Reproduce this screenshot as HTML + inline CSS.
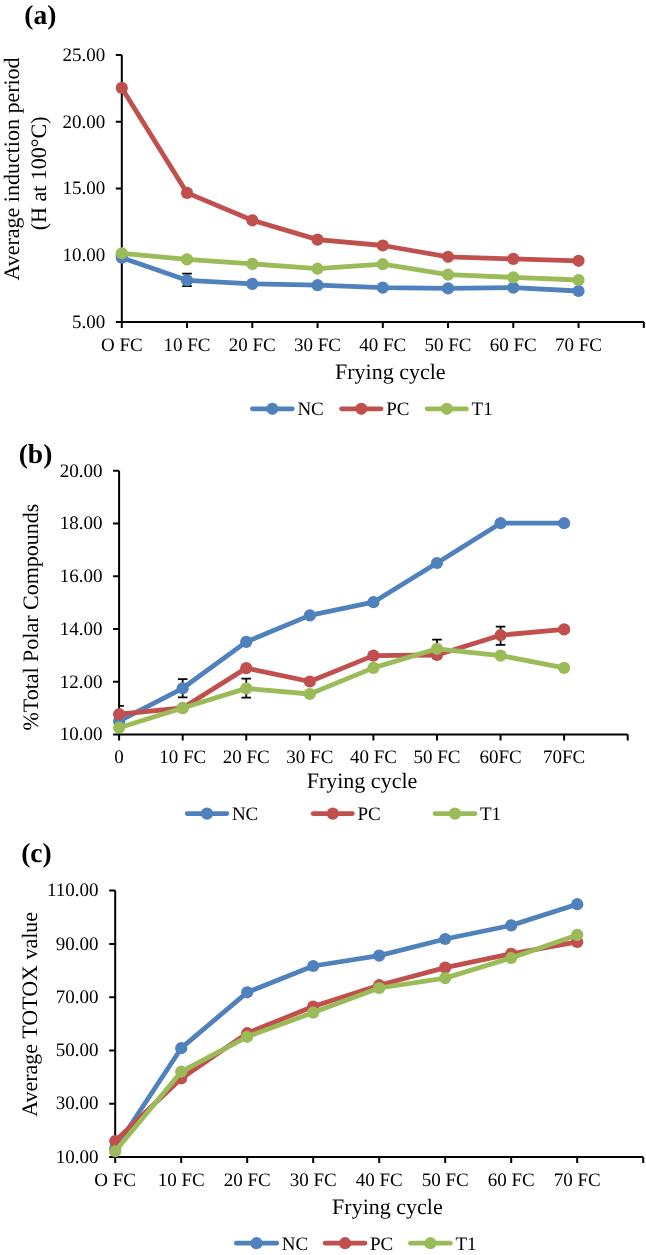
<!DOCTYPE html>
<html><head><meta charset="utf-8"><style>
html,body{margin:0;padding:0;background:#fff;width:646px;height:1255px;overflow:hidden}
svg{display:block;will-change:transform}
text{font-family:"Liberation Serif",serif;fill:#000;text-rendering:geometricPrecision}
</style></head><body>
<svg width="646" height="1255" viewBox="0 0 646 1255">
<rect width="646" height="1255" fill="#fff"/>
<path d="M121.80,55.10 V322.00 H643.80" fill="none" stroke="#000" stroke-width="2"/>
<path d="M115.80,55.10 H121.80 M115.80,121.80 H121.80 M115.80,188.50 H121.80 M115.80,255.20 H121.80 M115.80,322.00 H121.80 M121.80,322.00 V328.00 M187.05,322.00 V328.00 M252.30,322.00 V328.00 M317.55,322.00 V328.00 M382.80,322.00 V328.00 M448.05,322.00 V328.00 M513.30,322.00 V328.00 M578.55,322.00 V328.00 M643.80,322.00 V328.00" fill="none" stroke="#000" stroke-width="2"/>
<text x="105.30" y="60.80" font-size="19" font-weight="normal" text-anchor="end" >25.00</text>
<text x="105.30" y="127.50" font-size="19" font-weight="normal" text-anchor="end" >20.00</text>
<text x="105.30" y="194.20" font-size="19" font-weight="normal" text-anchor="end" >15.00</text>
<text x="105.30" y="260.90" font-size="19" font-weight="normal" text-anchor="end" >10.00</text>
<text x="105.30" y="327.70" font-size="19" font-weight="normal" text-anchor="end" >5.00</text>
<text x="121.80" y="350.50" font-size="19" font-weight="normal" text-anchor="middle" >O FC</text>
<text x="187.05" y="350.50" font-size="19" font-weight="normal" text-anchor="middle" >10 FC</text>
<text x="252.30" y="350.50" font-size="19" font-weight="normal" text-anchor="middle" >20 FC</text>
<text x="317.55" y="350.50" font-size="19" font-weight="normal" text-anchor="middle" >30 FC</text>
<text x="382.80" y="350.50" font-size="19" font-weight="normal" text-anchor="middle" >40 FC</text>
<text x="448.05" y="350.50" font-size="19" font-weight="normal" text-anchor="middle" >50 FC</text>
<text x="513.30" y="350.50" font-size="19" font-weight="normal" text-anchor="middle" >60 FC</text>
<text x="578.55" y="350.50" font-size="19" font-weight="normal" text-anchor="middle" >70 FC</text>
<text x="643.80" y="350.50" font-size="19" font-weight="normal" text-anchor="middle" ></text>
<text x="335.00" y="378.80" font-size="22" font-weight="normal" text-anchor="start" >Frying cycle</text>
<text transform="translate(18.70,169.00) rotate(-90)" x="0" y="0" font-size="22" text-anchor="middle">Average induction period</text>
<text transform="translate(45.60,173.40) rotate(-90)" x="0" y="0" font-size="22" text-anchor="middle">(H at 100°C)</text>
<text x="24.30" y="24.10" font-size="27.5" font-weight="bold" text-anchor="start" >(a)</text>
<clipPath id="ca"><rect x="121.80" y="35.10" width="522.00" height="286.90"/></clipPath>
<path clip-path="url(#ca)" d="M187.05,273.70 V286.10 M182.25,273.70 H191.85 M182.25,286.10 H191.85" fill="none" stroke="#000" stroke-width="1.8"/>
<polyline points="121.80,257.70 187.05,280.30 252.30,283.90 317.55,285.20 382.80,287.60 448.05,288.40 513.30,287.60 578.55,291.00" fill="none" stroke="#4F81BD" stroke-width="4.8" stroke-linejoin="round" stroke-linecap="round"/>
<circle cx="121.80" cy="257.70" r="6.1" fill="#4F81BD"/>
<circle cx="187.05" cy="280.30" r="6.1" fill="#4F81BD"/>
<circle cx="252.30" cy="283.90" r="6.1" fill="#4F81BD"/>
<circle cx="317.55" cy="285.20" r="6.1" fill="#4F81BD"/>
<circle cx="382.80" cy="287.60" r="6.1" fill="#4F81BD"/>
<circle cx="448.05" cy="288.40" r="6.1" fill="#4F81BD"/>
<circle cx="513.30" cy="287.60" r="6.1" fill="#4F81BD"/>
<circle cx="578.55" cy="291.00" r="6.1" fill="#4F81BD"/>
<polyline points="121.80,87.90 187.05,192.90 252.30,220.30 317.55,239.60 382.80,245.50 448.05,256.80 513.30,258.90 578.55,260.80" fill="none" stroke="#C0504D" stroke-width="4.8" stroke-linejoin="round" stroke-linecap="round"/>
<circle cx="121.80" cy="87.90" r="6.1" fill="#C0504D"/>
<circle cx="187.05" cy="192.90" r="6.1" fill="#C0504D"/>
<circle cx="252.30" cy="220.30" r="6.1" fill="#C0504D"/>
<circle cx="317.55" cy="239.60" r="6.1" fill="#C0504D"/>
<circle cx="382.80" cy="245.50" r="6.1" fill="#C0504D"/>
<circle cx="448.05" cy="256.80" r="6.1" fill="#C0504D"/>
<circle cx="513.30" cy="258.90" r="6.1" fill="#C0504D"/>
<circle cx="578.55" cy="260.80" r="6.1" fill="#C0504D"/>
<polyline points="121.80,253.30 187.05,259.40 252.30,263.90 317.55,268.70 382.80,264.20 448.05,274.70 513.30,277.40 578.55,280.00" fill="none" stroke="#9BBB59" stroke-width="4.8" stroke-linejoin="round" stroke-linecap="round"/>
<circle cx="121.80" cy="253.30" r="6.1" fill="#9BBB59"/>
<circle cx="187.05" cy="259.40" r="6.1" fill="#9BBB59"/>
<circle cx="252.30" cy="263.90" r="6.1" fill="#9BBB59"/>
<circle cx="317.55" cy="268.70" r="6.1" fill="#9BBB59"/>
<circle cx="382.80" cy="264.20" r="6.1" fill="#9BBB59"/>
<circle cx="448.05" cy="274.70" r="6.1" fill="#9BBB59"/>
<circle cx="513.30" cy="277.40" r="6.1" fill="#9BBB59"/>
<circle cx="578.55" cy="280.00" r="6.1" fill="#9BBB59"/>
<path d="M252.40,408.80 H292.30" stroke="#4F81BD" stroke-width="4.8" stroke-linecap="round"/>
<circle cx="272.35" cy="408.80" r="6.1" fill="#4F81BD"/>
<text x="297.40" y="415.20" font-size="19" font-weight="normal" text-anchor="start" >NC</text>
<path d="M341.60,408.80 H381.10" stroke="#C0504D" stroke-width="4.8" stroke-linecap="round"/>
<circle cx="361.35" cy="408.80" r="6.1" fill="#C0504D"/>
<text x="386.20" y="415.20" font-size="19" font-weight="normal" text-anchor="start" >PC</text>
<path d="M427.10,408.80 H466.50" stroke="#9BBB59" stroke-width="4.8" stroke-linecap="round"/>
<circle cx="446.80" cy="408.80" r="6.1" fill="#9BBB59"/>
<text x="471.60" y="415.20" font-size="19" font-weight="normal" text-anchor="start" >T1</text>
<path d="M119.10,470.80 V734.50 H627.70" fill="none" stroke="#000" stroke-width="2"/>
<path d="M113.10,470.80 H119.10 M113.10,523.50 H119.10 M113.10,576.30 H119.10 M113.10,629.00 H119.10 M113.10,681.80 H119.10 M113.10,734.50 H119.10 M119.10,734.50 V740.50 M182.68,734.50 V740.50 M246.25,734.50 V740.50 M309.83,734.50 V740.50 M373.40,734.50 V740.50 M436.98,734.50 V740.50 M500.55,734.50 V740.50 M564.12,734.50 V740.50 M627.70,734.50 V740.50" fill="none" stroke="#000" stroke-width="2"/>
<text x="102.60" y="476.50" font-size="19" font-weight="normal" text-anchor="end" >20.00</text>
<text x="102.60" y="529.20" font-size="19" font-weight="normal" text-anchor="end" >18.00</text>
<text x="102.60" y="582.00" font-size="19" font-weight="normal" text-anchor="end" >16.00</text>
<text x="102.60" y="634.70" font-size="19" font-weight="normal" text-anchor="end" >14.00</text>
<text x="102.60" y="687.50" font-size="19" font-weight="normal" text-anchor="end" >12.00</text>
<text x="102.60" y="740.20" font-size="19" font-weight="normal" text-anchor="end" >10.00</text>
<text x="119.10" y="763.00" font-size="19" font-weight="normal" text-anchor="middle" >0</text>
<text x="182.68" y="763.00" font-size="19" font-weight="normal" text-anchor="middle" >10 FC</text>
<text x="246.25" y="763.00" font-size="19" font-weight="normal" text-anchor="middle" >20 FC</text>
<text x="309.83" y="763.00" font-size="19" font-weight="normal" text-anchor="middle" >30 FC</text>
<text x="373.40" y="763.00" font-size="19" font-weight="normal" text-anchor="middle" >40 FC</text>
<text x="436.98" y="763.00" font-size="19" font-weight="normal" text-anchor="middle" >50 FC</text>
<text x="500.55" y="763.00" font-size="19" font-weight="normal" text-anchor="middle" >60FC</text>
<text x="564.12" y="763.00" font-size="19" font-weight="normal" text-anchor="middle" >70FC</text>
<text x="627.70" y="763.00" font-size="19" font-weight="normal" text-anchor="middle" ></text>
<text x="306.70" y="787.50" font-size="22" font-weight="normal" text-anchor="start" >Frying cycle</text>
<text transform="translate(37.90,617.10) rotate(-90)" x="0" y="0" font-size="22" text-anchor="middle">%Total Polar Compounds</text>
<text x="18.70" y="463.30" font-size="27.5" font-weight="bold" text-anchor="start" >(b)</text>
<clipPath id="cb"><rect x="119.10" y="450.80" width="508.60" height="283.70"/></clipPath>
<path clip-path="url(#cb)" d="M119.10,705.80 V736.60 M114.30,705.80 H123.90 M114.30,736.60 H123.90" fill="none" stroke="#000" stroke-width="1.8"/>
<path clip-path="url(#cb)" d="M182.68,679.20 V697.40 M177.88,679.20 H187.48 M177.88,697.40 H187.48" fill="none" stroke="#000" stroke-width="1.8"/>
<path clip-path="url(#cb)" d="M246.25,678.70 V697.60 M241.45,678.70 H251.05 M241.45,697.60 H251.05" fill="none" stroke="#000" stroke-width="1.8"/>
<path clip-path="url(#cb)" d="M436.98,639.60 V658.00 M432.18,639.60 H441.78 M432.18,658.00 H441.78" fill="none" stroke="#000" stroke-width="1.8"/>
<path clip-path="url(#cb)" d="M500.55,626.70 V644.80 M495.75,626.70 H505.35 M495.75,644.80 H505.35" fill="none" stroke="#000" stroke-width="1.8"/>
<polyline points="119.10,721.20 182.68,688.30 246.25,641.90 309.83,615.40 373.40,602.20 436.98,563.00 500.55,523.20 564.12,523.20" fill="none" stroke="#4F81BD" stroke-width="4.8" stroke-linejoin="round" stroke-linecap="round"/>
<circle cx="119.10" cy="721.20" r="6.1" fill="#4F81BD"/>
<circle cx="182.68" cy="688.30" r="6.1" fill="#4F81BD"/>
<circle cx="246.25" cy="641.90" r="6.1" fill="#4F81BD"/>
<circle cx="309.83" cy="615.40" r="6.1" fill="#4F81BD"/>
<circle cx="373.40" cy="602.20" r="6.1" fill="#4F81BD"/>
<circle cx="436.98" cy="563.00" r="6.1" fill="#4F81BD"/>
<circle cx="500.55" cy="523.20" r="6.1" fill="#4F81BD"/>
<circle cx="564.12" cy="523.20" r="6.1" fill="#4F81BD"/>
<polyline points="119.10,714.20 182.68,708.00 246.25,668.10 309.83,681.50 373.40,655.60 436.98,655.00 500.55,635.20 564.12,629.40" fill="none" stroke="#C0504D" stroke-width="4.8" stroke-linejoin="round" stroke-linecap="round"/>
<circle cx="119.10" cy="714.20" r="6.1" fill="#C0504D"/>
<circle cx="182.68" cy="708.00" r="6.1" fill="#C0504D"/>
<circle cx="246.25" cy="668.10" r="6.1" fill="#C0504D"/>
<circle cx="309.83" cy="681.50" r="6.1" fill="#C0504D"/>
<circle cx="373.40" cy="655.60" r="6.1" fill="#C0504D"/>
<circle cx="436.98" cy="655.00" r="6.1" fill="#C0504D"/>
<circle cx="500.55" cy="635.20" r="6.1" fill="#C0504D"/>
<circle cx="564.12" cy="629.40" r="6.1" fill="#C0504D"/>
<polyline points="119.10,727.70 182.68,708.00 246.25,688.40 309.83,694.00 373.40,667.90 436.98,648.80 500.55,655.60 564.12,667.90" fill="none" stroke="#9BBB59" stroke-width="4.8" stroke-linejoin="round" stroke-linecap="round"/>
<circle cx="119.10" cy="727.70" r="6.1" fill="#9BBB59"/>
<circle cx="182.68" cy="708.00" r="6.1" fill="#9BBB59"/>
<circle cx="246.25" cy="688.40" r="6.1" fill="#9BBB59"/>
<circle cx="309.83" cy="694.00" r="6.1" fill="#9BBB59"/>
<circle cx="373.40" cy="667.90" r="6.1" fill="#9BBB59"/>
<circle cx="436.98" cy="648.80" r="6.1" fill="#9BBB59"/>
<circle cx="500.55" cy="655.60" r="6.1" fill="#9BBB59"/>
<circle cx="564.12" cy="667.90" r="6.1" fill="#9BBB59"/>
<path d="M187.20,813.60 H226.80" stroke="#4F81BD" stroke-width="4.8" stroke-linecap="round"/>
<circle cx="207.00" cy="813.60" r="6.1" fill="#4F81BD"/>
<text x="231.90" y="820.00" font-size="19" font-weight="normal" text-anchor="start" >NC</text>
<path d="M313.20,813.60 H352.30" stroke="#C0504D" stroke-width="4.8" stroke-linecap="round"/>
<circle cx="332.75" cy="813.60" r="6.1" fill="#C0504D"/>
<text x="357.40" y="820.00" font-size="19" font-weight="normal" text-anchor="start" >PC</text>
<path d="M435.00,813.60 H474.90" stroke="#9BBB59" stroke-width="4.8" stroke-linecap="round"/>
<circle cx="454.95" cy="813.60" r="6.1" fill="#9BBB59"/>
<text x="480.00" y="820.00" font-size="19" font-weight="normal" text-anchor="start" >T1</text>
<path d="M115.20,890.60 V1157.00 H643.20" fill="none" stroke="#000" stroke-width="2"/>
<path d="M109.20,890.60 H115.20 M109.20,943.90 H115.20 M109.20,997.20 H115.20 M109.20,1050.40 H115.20 M109.20,1103.70 H115.20 M109.20,1157.00 H115.20 M115.20,1157.00 V1163.00 M181.20,1157.00 V1163.00 M247.20,1157.00 V1163.00 M313.20,1157.00 V1163.00 M379.20,1157.00 V1163.00 M445.20,1157.00 V1163.00 M511.20,1157.00 V1163.00 M577.20,1157.00 V1163.00 M643.20,1157.00 V1163.00" fill="none" stroke="#000" stroke-width="2"/>
<text x="98.50" y="896.30" font-size="19" font-weight="normal" text-anchor="end" >110.00</text>
<text x="98.50" y="949.60" font-size="19" font-weight="normal" text-anchor="end" >90.00</text>
<text x="98.50" y="1002.90" font-size="19" font-weight="normal" text-anchor="end" >70.00</text>
<text x="98.50" y="1056.10" font-size="19" font-weight="normal" text-anchor="end" >50.00</text>
<text x="98.50" y="1109.40" font-size="19" font-weight="normal" text-anchor="end" >30.00</text>
<text x="98.50" y="1162.70" font-size="19" font-weight="normal" text-anchor="end" >10.00</text>
<text x="115.20" y="1185.80" font-size="19" font-weight="normal" text-anchor="middle" >O FC</text>
<text x="181.20" y="1185.80" font-size="19" font-weight="normal" text-anchor="middle" >10 FC</text>
<text x="247.20" y="1185.80" font-size="19" font-weight="normal" text-anchor="middle" >20 FC</text>
<text x="313.20" y="1185.80" font-size="19" font-weight="normal" text-anchor="middle" >30 FC</text>
<text x="379.20" y="1185.80" font-size="19" font-weight="normal" text-anchor="middle" >40 FC</text>
<text x="445.20" y="1185.80" font-size="19" font-weight="normal" text-anchor="middle" >50 FC</text>
<text x="511.20" y="1185.80" font-size="19" font-weight="normal" text-anchor="middle" >60 FC</text>
<text x="577.20" y="1185.80" font-size="19" font-weight="normal" text-anchor="middle" >70 FC</text>
<text x="643.20" y="1185.80" font-size="19" font-weight="normal" text-anchor="middle" ></text>
<text x="332.10" y="1213.60" font-size="22" font-weight="normal" text-anchor="start" >Frying cycle</text>
<text transform="translate(37.20,1014.30) rotate(-90)" x="0" y="0" font-size="22" text-anchor="middle">Average TOTOX value</text>
<text x="21.20" y="862.20" font-size="27.5" font-weight="bold" text-anchor="start" >(c)</text>
<clipPath id="cc"><rect x="115.20" y="870.60" width="528.00" height="286.40"/></clipPath>
<polyline points="115.20,1148.50 181.20,1048.20 247.20,992.30 313.20,966.00 379.20,955.60 445.20,939.00 511.20,925.40 577.20,904.20" fill="none" stroke="#4F81BD" stroke-width="4.8" stroke-linejoin="round" stroke-linecap="round"/>
<circle cx="115.20" cy="1148.50" r="6.1" fill="#4F81BD"/>
<circle cx="181.20" cy="1048.20" r="6.1" fill="#4F81BD"/>
<circle cx="247.20" cy="992.30" r="6.1" fill="#4F81BD"/>
<circle cx="313.20" cy="966.00" r="6.1" fill="#4F81BD"/>
<circle cx="379.20" cy="955.60" r="6.1" fill="#4F81BD"/>
<circle cx="445.20" cy="939.00" r="6.1" fill="#4F81BD"/>
<circle cx="511.20" cy="925.40" r="6.1" fill="#4F81BD"/>
<circle cx="577.20" cy="904.20" r="6.1" fill="#4F81BD"/>
<polyline points="115.20,1141.00 181.20,1078.40 247.20,1033.20 313.20,1006.50 379.20,985.20 445.20,967.60 511.20,953.80 577.20,941.90" fill="none" stroke="#C0504D" stroke-width="4.8" stroke-linejoin="round" stroke-linecap="round"/>
<circle cx="115.20" cy="1141.00" r="6.1" fill="#C0504D"/>
<circle cx="181.20" cy="1078.40" r="6.1" fill="#C0504D"/>
<circle cx="247.20" cy="1033.20" r="6.1" fill="#C0504D"/>
<circle cx="313.20" cy="1006.50" r="6.1" fill="#C0504D"/>
<circle cx="379.20" cy="985.20" r="6.1" fill="#C0504D"/>
<circle cx="445.20" cy="967.60" r="6.1" fill="#C0504D"/>
<circle cx="511.20" cy="953.80" r="6.1" fill="#C0504D"/>
<circle cx="577.20" cy="941.90" r="6.1" fill="#C0504D"/>
<polyline points="115.20,1151.30 181.20,1071.70 247.20,1036.80 313.20,1012.60 379.20,988.00 445.20,978.10 511.20,958.00 577.20,934.90" fill="none" stroke="#9BBB59" stroke-width="4.8" stroke-linejoin="round" stroke-linecap="round"/>
<circle cx="115.20" cy="1151.30" r="6.1" fill="#9BBB59"/>
<circle cx="181.20" cy="1071.70" r="6.1" fill="#9BBB59"/>
<circle cx="247.20" cy="1036.80" r="6.1" fill="#9BBB59"/>
<circle cx="313.20" cy="1012.60" r="6.1" fill="#9BBB59"/>
<circle cx="379.20" cy="988.00" r="6.1" fill="#9BBB59"/>
<circle cx="445.20" cy="978.10" r="6.1" fill="#9BBB59"/>
<circle cx="511.20" cy="958.00" r="6.1" fill="#9BBB59"/>
<circle cx="577.20" cy="934.90" r="6.1" fill="#9BBB59"/>
<path d="M236.40,1243.20 H276.70" stroke="#4F81BD" stroke-width="4.8" stroke-linecap="round"/>
<circle cx="256.55" cy="1243.20" r="6.1" fill="#4F81BD"/>
<text x="281.80" y="1249.60" font-size="19" font-weight="normal" text-anchor="start" >NC</text>
<path d="M325.20,1243.20 H364.90" stroke="#C0504D" stroke-width="4.8" stroke-linecap="round"/>
<circle cx="345.05" cy="1243.20" r="6.1" fill="#C0504D"/>
<text x="370.00" y="1249.60" font-size="19" font-weight="normal" text-anchor="start" >PC</text>
<path d="M410.50,1243.20 H450.30" stroke="#9BBB59" stroke-width="4.8" stroke-linecap="round"/>
<circle cx="430.40" cy="1243.20" r="6.1" fill="#9BBB59"/>
<text x="455.40" y="1249.60" font-size="19" font-weight="normal" text-anchor="start" >T1</text>
</svg>
</body></html>
